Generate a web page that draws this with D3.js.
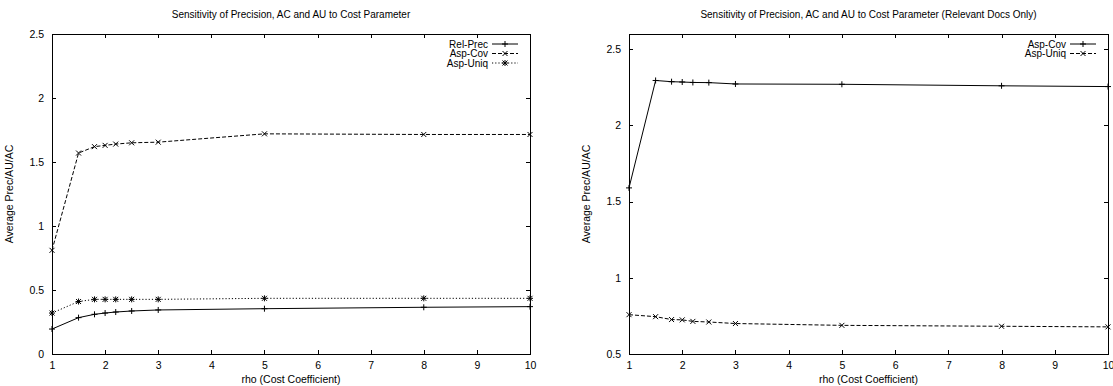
<!DOCTYPE html>
<html><head><meta charset="utf-8">
<script src="https://cdn.jsdelivr.net/npm/d3@7"></script>
<style>
html,body{margin:0;padding:0;background:#fff;}
text{font-family:"Liberation Sans",Arial,Helvetica,sans-serif;fill:#000;}
</style></head>
<body>
<svg id="chart" width="1113" height="386"></svg>
<script>
// ---- data ----
const rho = [1, 1.5, 1.8, 2, 2.2, 2.5, 3, 5, 8, 10];
const relPrec = [0.195, 0.284, 0.31, 0.32, 0.328, 0.336, 0.344, 0.354, 0.365, 0.37];
const aspCovL = [0.81, 1.57, 1.62, 1.63, 1.64, 1.65, 1.655, 1.72, 1.715, 1.715];
const aspUniqL = [0.32, 0.41, 0.427, 0.427, 0.427, 0.427, 0.427, 0.435, 0.435, 0.435];
const aspCovR = [1.59, 2.295, 2.287, 2.285, 2.282, 2.281, 2.272, 2.27, 2.26, 2.255];
const aspUniqR = [0.758, 0.745, 0.726, 0.724, 0.714, 0.71, 0.70, 0.688, 0.682, 0.678];
const xTicks = [1, 2, 3, 4, 5, 6, 7, 8, 9, 10];
const yTicksL = [0, 0.5, 1, 1.5, 2, 2.5];
const yTicksR = [0.5, 1, 1.5, 2, 2.5];
const titleL = "Sensitivity of Precision, AC and AU to Cost Parameter";
const titleR = "Sensitivity of Precision, AC and AU to Cost Parameter (Relevant Docs Only)";
const xLabel = "rho (Cost Coefficient)";
const yLabel = "Average Prec/AU/AC";

const svg = d3.select("#chart");

const markers = {
  plus: "M-3,0H3M0,-3V3",
  cross: "M-2.5,-2.5L2.5,2.5M-2.5,2.5L2.5,-2.5",
  star: "M-3,0H3M0,-3V3M-2.5,-2.5L2.5,2.5M-2.5,2.5L2.5,-2.5"
};
const dashes = { solid: null, dashed: "4,2", dotted: "1.2,2" };

function panel(cfg) {
  const g = svg.append("g");
  const x = d3.scaleLinear().domain([1, 10]).range([cfg.x0, cfg.x1]);
  const y = d3.scaleLinear().domain(cfg.yDomain).range([cfg.y1, cfg.y0]);

  const fmt = d => String(d);
  g.append("g").attr("transform", `translate(0,${cfg.y1})`)
    .call(d3.axisBottom(x).tickValues(xTicks).tickSize(-4).tickPadding(8).tickFormat(fmt));
  g.append("g").attr("transform", `translate(0,${cfg.y0})`)
    .call(d3.axisTop(x).tickValues(xTicks).tickSize(-4).tickFormat(""));
  g.append("g").attr("transform", `translate(${cfg.x0},0)`)
    .call(d3.axisLeft(y).tickValues(cfg.yTicks).tickSize(-4).tickPadding(8).tickFormat(fmt));
  g.append("g").attr("transform", `translate(${cfg.x1},0)`)
    .call(d3.axisRight(y).tickValues(cfg.yTicks).tickSize(-4).tickFormat(""));

  g.selectAll(".domain").attr("stroke", "#000").attr("stroke-width", 1.2).attr("shape-rendering", "crispEdges");
  g.selectAll(".tick line").attr("stroke", "#000").attr("stroke-width", 1).attr("shape-rendering", "crispEdges");
  g.selectAll(".tick text").style("font-size", "10.5px").attr("fill", "#000")
    .style("font-family", '"Liberation Sans",Arial,sans-serif');

  g.append("text").attr("x", (cfg.x0 + cfg.x1) / 2).attr("y", 18)
    .attr("text-anchor", "middle").style("font-size", "10px").text(cfg.title);
  g.append("text").attr("x", (cfg.x0 + cfg.x1) / 2).attr("y", 383)
    .attr("text-anchor", "middle").style("font-size", "10.5px").text(xLabel);
  g.append("text").attr("transform", `translate(${cfg.yLabelX},${(cfg.y0 + cfg.y1) / 2}) rotate(-90)`)
    .attr("text-anchor", "middle").style("font-size", "10.5px").text(yLabel);

  const line = d3.line().x((d, i) => x(rho[i])).y(d => y(d));

  cfg.series.forEach((s, k) => {
    g.append("path").attr("d", line(s.values)).attr("fill", "none")
      .attr("stroke", "#000").attr("stroke-width", 1)
      .attr("stroke-dasharray", dashes[s.dash]);
    g.selectAll(null).data(s.values).enter().append("path")
      .attr("transform", (d, i) => `translate(${x(rho[i])},${y(d)})`)
      .attr("d", markers[s.marker]).attr("stroke", "#000").attr("stroke-width", 1).attr("fill", "none");

    const ly = cfg.y0 + 10 + k * 9.5;
    const lx1 = cfg.x1 - 12, lx0 = lx1 - 26;
    g.append("text").attr("x", lx0 - 4).attr("y", ly).attr("dy", "0.35em")
      .attr("text-anchor", "end").style("font-size", "10px").text(s.name);
    g.append("line").attr("x1", lx0).attr("x2", lx1).attr("y1", ly).attr("y2", ly)
      .attr("stroke", "#000").attr("stroke-width", 1).attr("stroke-dasharray", dashes[s.dash]);
    g.append("path").attr("transform", `translate(${(lx0 + lx1) / 2},${ly})`)
      .attr("d", markers[s.marker]).attr("stroke", "#000").attr("stroke-width", 1).attr("fill", "none");
  });
}

panel({
  x0: 52, x1: 530, y0: 34, y1: 354, yDomain: [0, 2.5], yTicks: yTicksL,
  title: titleL, yLabelX: 13,
  series: [
    { name: "Rel-Prec", values: relPrec, dash: "solid", marker: "plus" },
    { name: "Asp-Cov", values: aspCovL, dash: "dashed", marker: "cross" },
    { name: "Asp-Uniq", values: aspUniqL, dash: "dotted", marker: "star" }
  ]
});

panel({
  x0: 629, x1: 1108, y0: 34, y1: 354, yDomain: [0.5, 2.6], yTicks: yTicksR,
  title: titleR, yLabelX: 590,
  series: [
    { name: "Asp-Cov", values: aspCovR, dash: "solid", marker: "plus" },
    { name: "Asp-Uniq", values: aspUniqR, dash: "dashed", marker: "cross" }
  ]
});
</script>
</body></html>
